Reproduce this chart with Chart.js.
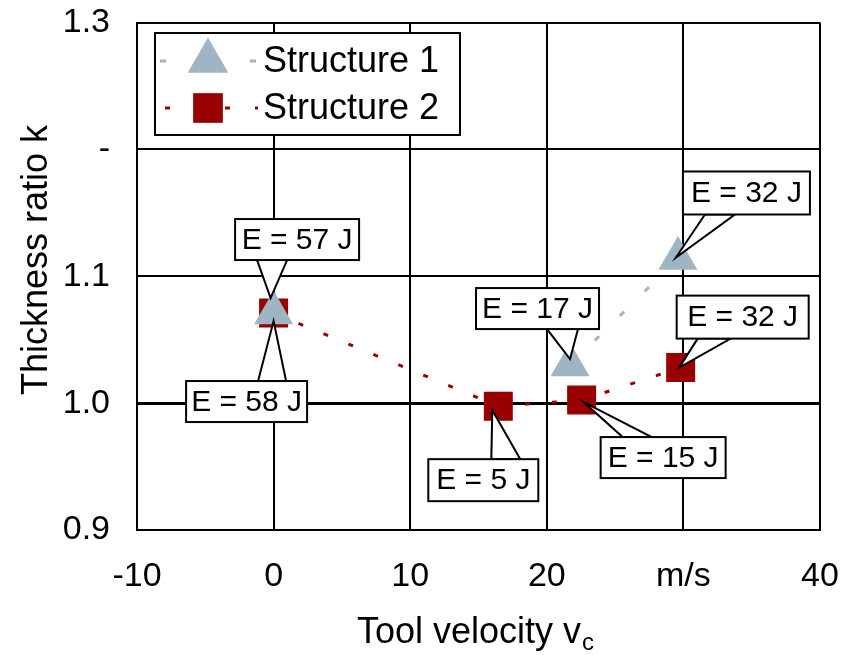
<!DOCTYPE html>
<html><head><meta charset="utf-8">
<script src="https://cdn.jsdelivr.net/npm/chart.js@4"></script>
<style>html,body{margin:0;padding:0;background:#fff;} canvas{display:block;}</style>
</head><body>
<canvas id="c" width="857" height="655"></canvas>
<script>
// ---- data ----
const xTickValues = [-10, 0, 10, 20, 30, 40];
const xTickLabels = ['-10', '0', '10', '20', 'm/s', '40'];
const yTickValues = [0.9, 1.0, 1.1, 1.2, 1.3];
const yTickLabels = ['0.9', '1.0', '1.1', '-', '1.3'];
const seriesNames = ['Structure 1', 'Structure 2'];
const s1Velocity = [0, 21.7, 29.6];
const s1Ratio = [1.071, 1.030, 1.114];
const s1Energy = ['E = 57 J', 'E = 17 J', 'E = 32 J'];
const s2Velocity = [0, 16.45, 22.55, 29.8];
const s2Ratio = [1.071, 0.9976, 1.0024, 1.028];
const s2Energy = ['E = 58 J', 'E = 5 J', 'E = 15 J', 'E = 32 J'];
const xTitle = 'Tool velocity v';
const xTitleSub = 'c';
const yTitle = 'Thickness ratio k';

// ---- styles ----
const C1 = '#a0b5c3';
const C2 = '#990000';
const FONT = '"Liberation Sans", Arial, sans-serif';

// callout layout (pixel offsets relative to the point): box offset, size, wedge side, wedge base, tip offset
const calloutStyle = [
  [ {bx:-38.5, by:-94, w:124, h:41, side:'bottom', a1:22, a2:52, tx:-3, ty:-15},
    {bx:-94, by:-77, w:123, h:41, side:'bottom', a1:71, a2:102, tx:0, ty:-6},
    {bx:5, by:-87, w:127, h:43, side:'bottom', a1:22, a2:52, tx:-2, ty:-1} ],
  [ {bx:-87.5, by:68, w:121, h:41, side:'top', a1:72, a2:100, tx:0, ty:8},
    {bx:-70, by:53, w:110, h:42, side:'top', a1:63, a2:92, tx:-6, ty:4},
    {bx:19, by:37, w:125, h:41, side:'top', a1:22, a2:51, tx:2, ty:2},
    {bx:-4, by:-72, w:132, h:43, side:'bottom', a1:21, a2:54, tx:-1.5, ty:0} ]
];
const energies = [s1Energy, s2Energy];

const s1Data = s1Velocity.map((v, i) => ({x: v, y: s1Ratio[i]}));
const s2Data = s2Velocity.map((v, i) => ({x: v, y: s2Ratio[i]}));

const calloutPlugin = {
  id: 'callouts',
  afterDatasetsDraw(chart) {
    const ctx = chart.ctx;
    ctx.save();
    [1, 0].forEach(di => {
      const meta = chart.getDatasetMeta(di);
      meta.data.forEach((pt, i) => {
        const s = calloutStyle[di][i];
        const px = pt.x, py = pt.y;
        const L = px + s.bx, T = py + s.by;
        const baseY = s.side === 'bottom' ? T + s.h : T;
        ctx.lineWidth = 2;
        ctx.strokeStyle = '#000';
        ctx.fillStyle = '#fff';
        ctx.lineJoin = 'miter';
        ctx.beginPath();
        ctx.moveTo(L + s.a1, baseY);
        ctx.lineTo(px + s.tx, py + s.ty);
        ctx.lineTo(L + s.a2, baseY);
        ctx.closePath();
        ctx.fill(); ctx.stroke();
        ctx.fillRect(L, T, s.w, s.h);
        ctx.strokeRect(L, T, s.w, s.h);
        ctx.fillStyle = '#000';
        ctx.font = '30px ' + FONT;
        ctx.textAlign = 'center';
        ctx.textBaseline = 'middle';
        ctx.fillText(energies[di][i], L + s.w / 2, T + s.h / 2 + 1);
      });
    });
    ctx.restore();
  }
};

const legendPlugin = {
  id: 'boxLegend',
  afterDraw(chart) {
    const ctx = chart.ctx;
    ctx.save();
    ctx.fillStyle = '#fff';
    ctx.strokeStyle = '#000';
    ctx.lineWidth = 2;
    ctx.fillRect(155, 33, 305, 102);
    ctx.strokeRect(155, 33, 305, 102);
    const rows = [
      {y: 61, color: C1, style: 'triangle', r: 23.5, dash: [6, 39], x0: 160},
      {y: 108, color: C2, style: 'rect', r: 21, dash: [5, 25], x0: 165}
    ];
    rows.forEach((row, k) => {
      ctx.strokeStyle = row.color;
      ctx.lineWidth = 3;
      ctx.setLineDash(row.dash);
      ctx.beginPath();
      ctx.moveTo(row.x0, row.y); ctx.lineTo(258, row.y);
      ctx.stroke();
      ctx.setLineDash([]);
      ctx.fillStyle = row.color;
      ctx.beginPath();
      if (row.style === 'triangle') {
        const r = row.r;
        ctx.moveTo(208, row.y - r);
        ctx.lineTo(208 + r * Math.sin(2 * Math.PI / 3), row.y - r * Math.cos(2 * Math.PI / 3));
        ctx.lineTo(208 - r * Math.sin(2 * Math.PI / 3), row.y - r * Math.cos(2 * Math.PI / 3));
        ctx.closePath();
      } else {
        const h = row.r * Math.SQRT1_2;
        ctx.rect(208 - h, row.y - h, 2 * h, 2 * h);
      }
      ctx.fill();
      ctx.fillStyle = '#000';
      ctx.font = '36px ' + FONT;
      ctx.textAlign = 'left';
      ctx.textBaseline = 'middle';
      ctx.fillText(seriesNames[k], 263, row.y + 1);
    });
    // axis titles
    ctx.fillStyle = '#000';
    ctx.font = '36px ' + FONT;
    ctx.textBaseline = 'alphabetic';
    ctx.textAlign = 'left';
    const w1 = ctx.measureText(xTitle).width;
    ctx.font = '24px ' + FONT;
    const w2 = ctx.measureText(xTitleSub).width;
    const x0 = 475 - (w1 + w2) / 2;
    ctx.font = '36px ' + FONT;
    ctx.fillText(xTitle, x0, 643);
    ctx.font = '24px ' + FONT;
    ctx.fillText(xTitleSub, x0 + w1 + 1, 650);
    ctx.translate(37, 260);
    ctx.rotate(-Math.PI / 2);
    ctx.font = '36px ' + FONT;
    ctx.textAlign = 'center';
    ctx.textBaseline = 'middle';
    ctx.fillText(yTitle, 0, 0);
    ctx.restore();
  }
};

new Chart(document.getElementById('c'), {
  type: 'scatter',
  data: {
    datasets: [
      {
        label: seriesNames[0], data: s1Data, showLine: true,
        borderColor: C1, backgroundColor: C1, borderWidth: 3, borderDash: [6, 29],
        segment: { borderColor: c => c.p0DataIndex === 0 ? 'rgba(0,0,0,0)' : C1 },
        pointStyle: 'triangle', pointRadius: 22.5, pointHoverRadius: 22.5, pointBorderWidth: 0,
        pointBackgroundColor: C1
      },
      {
        label: seriesNames[1], data: s2Data, showLine: true,
        borderColor: C2, backgroundColor: C2, borderWidth: 3, borderDash: [5, 22],
        pointStyle: 'rect', pointRadius: 20.5, pointHoverRadius: 20.5, pointBorderWidth: 0,
        pointBackgroundColor: C2
      }
    ]
  },
  options: {
    responsive: false, animation: false, events: [],
    layout: { padding: { left: 0, top: 20, right: 37, bottom: 0 } },
    plugins: { legend: { display: false }, tooltip: { enabled: false } },
    scales: {
      x: {
        type: 'linear', min: -10, max: 40,
        afterBuildTicks: s => { s.ticks = xTickValues.map(v => ({value: v})); },
        afterFit: s => { s.height = 125; s.paddingLeft = 0; s.paddingRight = 0; },
        ticks: { callback: (v, i) => xTickLabels[i], font: { size: 34, family: FONT }, color: '#000', padding: 26, maxRotation: 0, autoSkip: false },
        grid: { color: '#000', lineWidth: 2, drawTicks: false },
        border: { display: true, color: '#000', width: 2 }
      },
      y: {
        type: 'linear', min: 0.9, max: 1.3,
        afterBuildTicks: s => { s.ticks = yTickValues.map(v => ({value: v})); },
        afterFit: s => { s.width = 137; s.paddingTop = 0; s.paddingBottom = 0; },
        ticks: { callback: (v, i) => yTickLabels[i], font: { size: 34, family: FONT }, color: '#000', padding: 27, autoSkip: false },
        grid: { color: '#000', lineWidth: c => (c.tick && Math.abs(c.tick.value - 1.0) < 1e-9) ? 3 : 2, drawTicks: false },
        border: { display: true, color: '#000', width: 2 }
      }
    }
  },
  plugins: [calloutPlugin, legendPlugin]
});
</script>
</body></html>
